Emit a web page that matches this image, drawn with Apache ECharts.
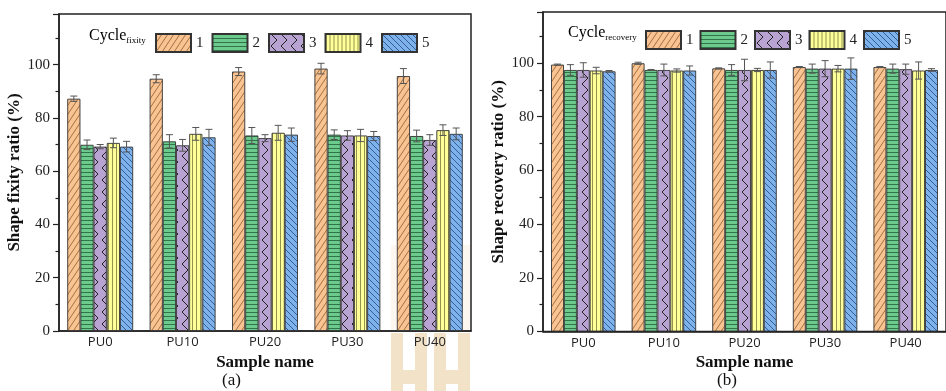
<!DOCTYPE html>
<html>
<head>
<meta charset="utf-8">
<script src="https://cdn.jsdelivr.net/npm/echarts@6/dist/echarts.min.js"></script>
<style>
html,body{margin:0;padding:0;background:#fff;}
#c{width:946px;height:391px;}
</style>
</head>
<body>
<div id="c"></div>
<script>
// ---------------- data ----------------
const categories = ['PU0', 'PU10', 'PU20', 'PU30', 'PU40'];
const cycleNames = ['1', '2', '3', '4', '5'];

const fixity1 = [87.2, 94.7, 97.4, 98.5, 95.7];
const fixity2 = [69.9, 71.2, 73.4, 73.7, 73.2];
const fixity3 = [69.2, 69.7, 72.4, 73.4, 71.7];
const fixity4 = [70.6, 74.0, 74.4, 73.4, 75.4];
const fixity5 = [69.2, 72.7, 73.7, 73.2, 74.0];
const fixityErr1 = [1.0, 1.5, 1.5, 2.0, 2.8];
const fixityErr2 = [1.8, 2.5, 3.0, 1.8, 2.2];
const fixityErr3 = [0.8, 2.2, 1.3, 1.8, 2.0];
const fixityErr4 = [1.8, 2.4, 2.8, 2.3, 2.0];
const fixityErr5 = [2.0, 3.0, 2.5, 1.7, 2.2];

const recovery1 = [99.4, 99.9, 98.0, 98.5, 98.5];
const recovery2 = [97.4, 97.4, 97.4, 97.9, 97.9];
const recovery3 = [97.4, 97.4, 97.4, 97.9, 97.7];
const recovery4 = [97.2, 97.2, 97.4, 97.9, 97.2];
const recovery5 = [96.9, 97.2, 97.4, 97.9, 97.4];
const recoveryErr1 = [0.2, 0.4, 0.2, 0.2, 0.2];
const recoveryErr2 = [2.0, 0.2, 2.0, 1.7, 1.7];
const recoveryErr3 = [2.7, 2.2, 4.0, 3.0, 1.9];
const recoveryErr4 = [1.2, 0.6, 0.6, 1.2, 3.2];
const recoveryErr5 = [0.3, 1.7, 3.0, 4.0, 0.5];

const yTicks = [0, 20, 40, 60, 80, 100];

// ---------------- styles ----------------
function makePattern(w, h, bg, fg, lw, draw) {
  const cv = document.createElement('canvas');
  cv.width = w; cv.height = h;
  const ctx = cv.getContext('2d');
  ctx.fillStyle = bg; ctx.fillRect(0, 0, w, h);
  ctx.strokeStyle = fg; ctx.lineWidth = lw;
  ctx.beginPath(); draw(ctx, w, h); ctx.stroke();
  return { image: cv, repeat: 'repeat' };
}
const patterns = [
  makePattern(6, 9, '#FAC392', '#8a5a30', 0.8, (c, w, h) => {
    for (let o = -w; o <= w; o += w) { c.moveTo(o, h); c.lineTo(o + w, 0); }
  }),
  makePattern(8, 4, '#6CCB8C', '#2a6a42', 0.9, (c, w, h) => {
    c.moveTo(0, 0.5); c.lineTo(w, 0.5);
  }),
  makePattern(10, 12, '#B9A3D3', '#222222', 1.0, (c, w, h) => {
    c.moveTo(2, 0); c.lineTo(8, 6); c.lineTo(2, 12);
  }),
  makePattern(4, 8, '#FFFF99', '#77773a', 0.8, (c, w, h) => {
    c.moveTo(0.5, 0); c.lineTo(0.5, h);
  }),
  makePattern(6, 6, '#7DB2EC', '#27477a', 0.8, (c, w, h) => {
    for (let o = -w; o <= w; o += w) { c.moveTo(o, 0); c.lineTo(o + w, h); }
  })
];

const serif = 'Liberation Serif';
const sans = 'Open Sans';

const fixityVals = [fixity1, fixity2, fixity3, fixity4, fixity5];
const fixityErrs = [fixityErr1, fixityErr2, fixityErr3, fixityErr4, fixityErr5];
const recoveryVals = [recovery1, recovery2, recovery3, recovery4, recovery5];
const recoveryErrs = [recoveryErr1, recoveryErr2, recoveryErr3, recoveryErr4, recoveryErr5];

function barSeries(g, vals) {
  return vals.map((d, k) => ({
    type: 'bar', name: cycleNames[k], xAxisIndex: g, yAxisIndex: g,
    data: d, barGap: '0%', barCategoryGap: '20%',
    itemStyle: { color: patterns[k], borderColor: '#333', borderWidth: 0.9 },
    emphasis: { disabled: true }, z: 2
  }));
}
function errSeries(g, vals, errs) {
  const data = [];
  vals.forEach((d, k) => d.forEach((v, i) => data.push([i, v, errs[k][i], k])));
  return {
    type: 'custom', name: 'err' + g, xAxisIndex: g, yAxisIndex: g, z: 5,
    encode: { x: 0, y: 1 },
    data: data,
    renderItem: function (params, api) {
      const i = api.value(0), v = api.value(1), e = api.value(2), k = api.value(3);
      const band = api.size([1, 0])[0];
      const bw = band * 0.8 / 5;
      const cx = api.coord([i, v])[0] + (k - 2) * bw;
      const yt = api.coord([i, v + e])[1];
      const yb = api.coord([i, v - e])[1];
      const cap = 3.5;
      const st = { stroke: '#555', lineWidth: 1 };
      return { type: 'group', children: [
        { type: 'line', shape: { x1: cx, y1: yt, x2: cx, y2: yb }, style: st },
        { type: 'line', shape: { x1: cx - cap, y1: yt, x2: cx + cap, y2: yt }, style: st },
        { type: 'line', shape: { x1: cx - cap, y1: yb, x2: cx + cap, y2: yb }, style: st }
      ]};
    }
  };
}

function yAxis(g, name, gap) {
  return {
    type: 'value', gridIndex: g, min: 0, max: 119, interval: 20,
    name: name, nameLocation: 'middle', nameGap: gap,
    nameTextStyle: { fontFamily: serif, fontWeight: 'bold', fontSize: 17, color: '#111' },
    axisLine: { show: true, lineStyle: { color: '#222', width: 1.5 } },
    axisTick: { show: true, inside: false, length: 6, lineStyle: { color: '#222', width: 1.2 } },
    minorTick: { show: true, splitNumber: 2, length: 3.5, lineStyle: { color: '#222', width: 1.2 } },
    splitLine: { show: false },
    axisLabel: { showMaxLabel: false, margin: 9, fontFamily: serif, fontSize: 15, color: '#222' }
  };
}
function xAxis(g) {
  return {
    type: 'category', gridIndex: g, data: categories,
    name: 'Sample name', nameLocation: 'middle', nameGap: 14,
    nameTextStyle: { fontFamily: serif, fontWeight: 'bold', fontSize: 17, color: '#111', verticalAlign: 'top' },
    axisLine: { show: true, lineStyle: { color: '#222', width: 1.5 } },
    axisTick: { show: false },
    axisLabel: { margin: 5, fontFamily: sans, fontSize: 13, color: '#222' }
  };
}
function legend(left, top, gap) {
  return {
    left: left, top: top, orient: 'horizontal', data: cycleNames,
    itemWidth: 35, itemHeight: 18, itemGap: gap, selectedMode: false, icon: 'rect',
    textStyle: { fontFamily: serif, fontSize: 15, color: '#222', padding: [0, 0, 0, 0] }
  };
}

function wmRect(x, y, w, h, op) {
  return { type: 'rect', shape: { x: x, y: y, width: w, height: h }, style: { fill: '#E2BE86', opacity: op } };
}
// watermark "HH": faint over the plot, stronger below it
const wm = [];
[391, 434].forEach(x0 => {
  wm.push(wmRect(x0, 245, 12, 86, 0.12), wmRect(x0 + 24, 245, 12, 86, 0.12));
  wm.push(wmRect(x0, 333, 12, 58, 0.45), wmRect(x0 + 24, 333, 12, 58, 0.45));
  wm.push(wmRect(x0 + 12, 370, 12, 14, 0.45));
});

const option = {
  animation: false,
  backgroundColor: '#fff',
  grid: [
    { left: 59, top: 14, width: 412, height: 317, show: true, borderColor: '#222', borderWidth: 1.5 },
    { left: 543, top: 12, width: 415, height: 319.5, show: true, borderColor: '#222', borderWidth: 1.5 }
  ],
  xAxis: [xAxis(0), xAxis(1)],
  yAxis: [yAxis(0, 'Shape fixity ratio (%)', 32), yAxis(1, 'Shape recovery ratio (%)', 31)],
  legend: [legend(150, 28, 8), legend(640, 25, 6)],
  series: [].concat(
    barSeries(0, fixityVals), [errSeries(0, fixityVals, fixityErrs)],
    barSeries(1, recoveryVals), [errSeries(1, recoveryVals, recoveryErrs)]
  ),
  graphic: [
    { type: 'text', left: 89, top: 28, z: 10, style: {
      text: '{a|Cycle}{b|fixity}',
      rich: { a: { fontFamily: serif, fontSize: 16, color: '#222', lineHeight: 18 },
              b: { fontFamily: serif, fontSize: 9, color: '#222', lineHeight: 10, verticalAlign: 'bottom', padding: [4, 0, 0, 0] } } } },
    { type: 'text', left: 568, top: 25, z: 10, style: {
      text: '{a|Cycle}{b|recovery}',
      rich: { a: { fontFamily: serif, fontSize: 16, color: '#222', lineHeight: 18 },
              b: { fontFamily: serif, fontSize: 9, color: '#222', lineHeight: 10, verticalAlign: 'bottom', padding: [4, 0, 0, 0] } } } },
    { type: 'text', left: 222, top: 372, z: 10, style: { text: '(a)', fontFamily: serif, fontSize: 17, fill: '#111' } },
    { type: 'text', left: 717, top: 372, z: 10, style: { text: '(b)', fontFamily: serif, fontSize: 17, fill: '#111' } },
    { type: 'group', z: 20, silent: true, children: wm }
  ]
};

const chart = echarts.init(document.getElementById('c'), null, { renderer: 'canvas' });
chart.setOption(option);
</script>
</body>
</html>
